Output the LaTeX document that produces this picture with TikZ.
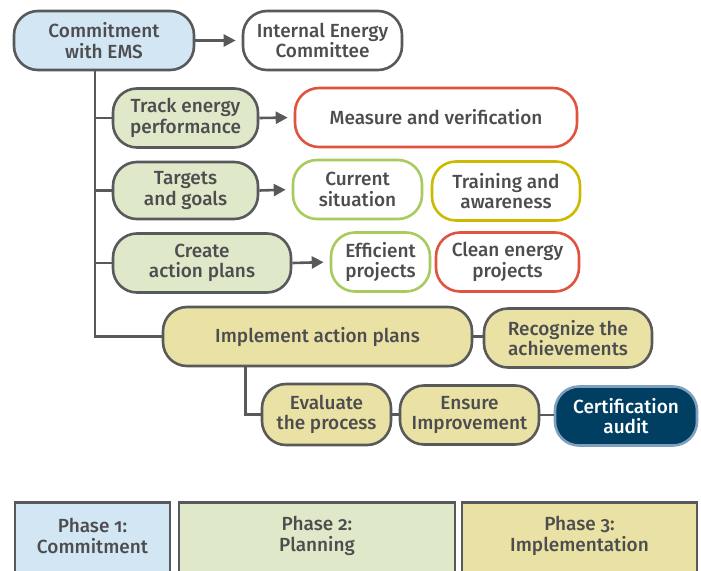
\documentclass[tikz,border=0pt]{standalone}
\usepackage{fontspec}
\setmainfont[Numbers=OldStyle]{Fira Sans Medium}
\usetikzlibrary{arrows.meta}

\definecolor{edgeGray}{HTML}{58595B}
\definecolor{textGray}{HTML}{4D4D4F}
\definecolor{fillBlue}{HTML}{D2E6F3}
\definecolor{fillGreen}{HTML}{DFE8C8}
\definecolor{fillKhaki}{HTML}{E9E2A4}
\definecolor{lineRed}{HTML}{E0533F}
\definecolor{lineGreen}{HTML}{A8CB5E}
\definecolor{lineOlive}{HTML}{CBBA00}
\definecolor{fillNavy}{HTML}{003F62}
\definecolor{lineNavy}{HTML}{7F9FBF}

\begin{document}
\begin{tikzpicture}
[x=1pt,y=-1pt,
  font=\fontsize{19}{20.5}\selectfont,
  pill/.style={shape=rectangle,rounded corners=24pt,draw=edgeGray,line width=2.6pt,
    text=textGray,align=center,inner sep=0pt,minimum height=59pt},%
  blueStep/.style={pill,fill=fillBlue},%
  greenStep/.style={pill,fill=fillGreen},%
  khakiStep/.style={pill,fill=fillKhaki},%
  plainItem/.style={pill,fill=white},%
  redItem/.style={pill,fill=white,draw=lineRed},%
  greenItem/.style={pill,fill=white,draw=lineGreen},%
  oliveItem/.style={pill,fill=white,draw=lineOlive},%
  navyItem/.style={pill,fill=fillNavy,draw=lineNavy,text=white},%
  phaseBox/.style={shape=rectangle,draw=edgeGray,line width=2.6pt,text=textGray,
    align=center,minimum height=75pt,anchor=north,inner sep=0pt},%
  darkArrow/.style={-{Triangle[length=12pt,width=12pt]},draw=edgeGray,line width=2.6pt},%
  plainLine/.style={draw=edgeGray,line width=2.6pt}]
\useasboundingbox (0,0) rectangle (701,570);
%% phase 1
\node (commit) at (104,40.5) [blueStep,minimum width=180pt] {Commitment\\with EMS};
\node (committee) at (322.5,40.5) [plainItem,minimum width=159pt] {Internal Energy\\Committee};
%% phase 2
\node (track) at (185.5,118) [greenStep,minimum width=145pt] {Track energy\\performance};
\node (measure) at (436,117.5) [redItem,minimum width=282pt] {Measure and verification};
\node (targets) at (185.5,190.5) [greenStep,minimum width=145pt,minimum height=57pt] {Targets\\and goals};
\node (current) at (357.5,189.5) [greenItem,minimum width=129pt] {Current\\situation};
\node (training) at (506,191) [oliveItem,minimum width=148pt] {Training and\\awareness};
\node (create) at (202,263) [greenStep,minimum width=178pt] {Create\\action plans};
\node (efficient) at (380.5,262) [greenItem,minimum width=99pt] {Efficient\\projects};
\node (clean) at (507.5,262) [redItem,minimum width=143pt] {Clean energy\\projects};
%% phase 3
\node (implement) at (317.5,336.5) [khakiStep,minimum width=309pt] {Implement action plans};
\node (recognize) at (568,338) [khakiStep,minimum width=168pt] {Recognize the\\achievements};
\node (evaluate) at (326.5,414.5) [khakiStep,minimum width=129pt,minimum height=61pt] {Evaluate\\the process};
\node (ensure) at (469.5,415) [khakiStep,minimum width=139pt] {Ensure\\Improvement};
\node (audit) at (626,416) [navyItem,minimum width=142pt] {Certification\\audit};
%% legend
\node (phaseA) at (92.5,501) [phaseBox,fill=fillBlue,minimum width=155pt] {};
\node (phaseB) at (317,501) [phaseBox,fill=fillGreen,minimum width=276pt] {};
\node (phaseC) at (579.5,501) [phaseBox,fill=fillKhaki,minimum width=235pt] {};
\foreach \boxname/\words in {phaseA/{Phase 1:\\Commitment}, phaseB/{Phase 2:\\Planning},
  phaseC/{Phase 3:\\Implementation}}
{
  \node[text=textGray,align=center] at ([yshift=-35pt]\boxname.north) {\words};
}
%% trunk and branches
\coordinate (trunk) at ([xshift=-9pt]commit.south);
\draw[plainLine] (trunk) |- (implement.west);
\foreach \branchnode in {track, targets, create}
{
  \draw[plainLine] (\branchnode.west) -- (\branchnode.west -| trunk);
}
\coordinate (stem) at ([xshift=-72pt]implement.south);
\draw[plainLine] (stem) |- (evaluate.west);
%% arrows and links
\path
\foreach \startnode/\endnode in {commit/committee, track/measure, targets/current, create/efficient}
{
  (\startnode.east) edge[darkArrow,shorten >=6pt] (\endnode.west)
}
\foreach \startnode/\endnode in {implement/recognize, evaluate/ensure, ensure/audit}
{
  (\startnode.east) edge[plainLine] (\startnode.east -| \endnode.west)
};
\end{tikzpicture}
\end{document}
